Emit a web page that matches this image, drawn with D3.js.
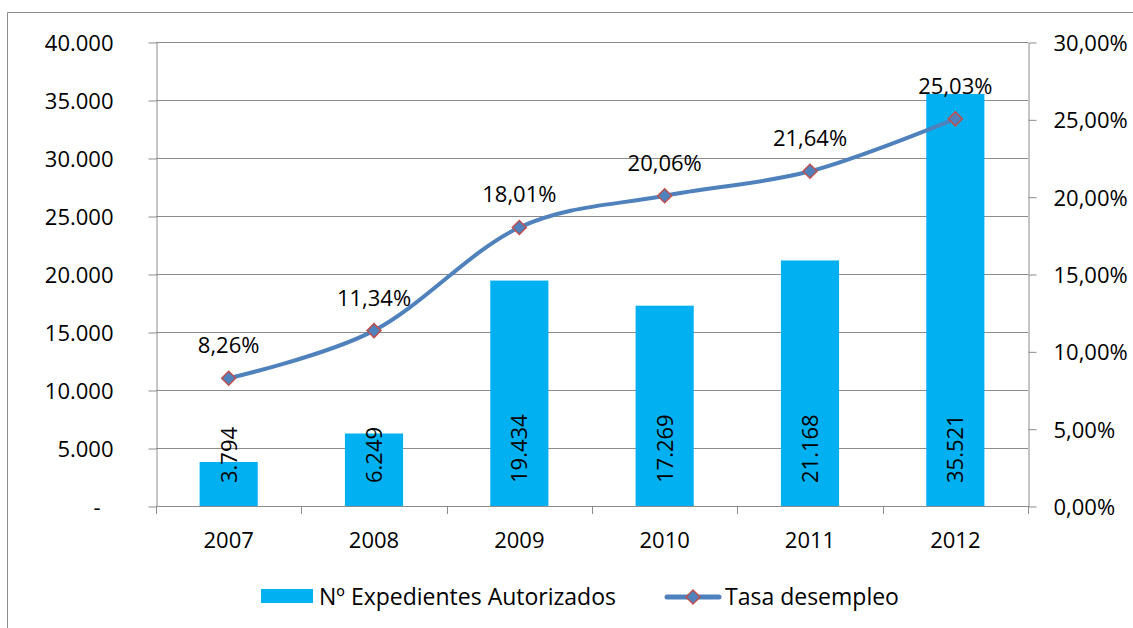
<!DOCTYPE html>
<html>
<head>
<meta charset="utf-8">
<script src="https://cdn.jsdelivr.net/npm/d3@7"></script>
<style>
  body { margin: 0; background: #fff; }
  svg { display: block; font-family: 'Open Sans', sans-serif; }
</style>
</head>
<body>
<svg id="chart" width="1133" height="628"></svg>
<script>
// Data
const years = ['2007', '2008', '2009', '2010', '2011', '2012']
const expedientes = [3794, 6249, 19434, 17269, 21168, 35521]
const tasa = [0.0826, 0.1134, 0.1801, 0.2006, 0.2164, 0.2503]
const leftTicks = [0, 5000, 10000, 15000, 20000, 25000, 30000, 35000, 40000]
const rightTicks = [0, 0.05, 0.10, 0.15, 0.20, 0.25, 0.30]
const barName = 'Nº Expedientes Autorizados'
const lineName = 'Tasa desempleo'

// Layout
const plot = { left: 156, right: 1028, top: 42, bottom: 506 }
const fontSize = 22
const legendFontSize = 23
const gridColor = '#8c8c8c'
const barColor = '#00B0F0'
const lineColor = '#4F81BD'
const markerStroke = '#C0504D'

const es = d3.formatLocale({ decimal: ',', thousands: '.', grouping: [3], currency: ['', '€'] })
const fmtNum = es.format(',')
const fmtPct = es.format('.2%')

const svg = d3.select('#chart')

// Outer chart border
svg.append('path')
  .attr('d', 'M7.5,628 V12.5 H1133')
  .attr('fill', 'none')
  .attr('stroke', gridColor)
  .attr('stroke-width', 1)

// Scales
const x = d3.scaleBand()
  .domain(years)
  .range([plot.left, plot.right])
  .padding(0.6)
  .paddingOuter(0.3)
const step = x.step()

const yLeft = d3.scaleLinear().domain([0, 40000]).range([plot.bottom, plot.top])
const yRight = d3.scaleLinear().domain([0, 0.30]).range([plot.bottom, plot.top])

// Gridlines
svg.append('g')
  .selectAll('line')
  .data(leftTicks)
  .enter()
  .append('line')
  .attr('x1', plot.left)
  .attr('x2', plot.right)
  .attr('y1', d => Math.round(yLeft(d)) + 0.5)
  .attr('y2', d => Math.round(yLeft(d)) + 0.5)
  .attr('stroke', gridColor)

// Left axis
const leftAxis = svg.append('g')
  .attr('transform', `translate(${plot.left + 0.5}, 0.5)`)
  .call(d3.axisLeft(yLeft).tickValues(leftTicks).tickSize(8).tickSizeOuter(0)
    .tickFormat(d => d === 0 ? '-' : fmtNum(d)))
leftAxis.selectAll('text')
  .attr('x', d => d === 0 ? -56 : -43)
  .attr('dy', null)
  .attr('y', 8)
  .style('font-size', fontSize + 'px')
  .style('font-family', 'Open Sans')
  .attr('fill', '#000')

// Right axis
const rightAxis = svg.append('g')
  .attr('transform', `translate(${plot.right + 0.5}, 0.5)`)
  .call(d3.axisRight(yRight).tickValues(rightTicks).tickSize(8).tickSizeOuter(0)
    .tickFormat(fmtPct))
rightAxis.selectAll('text')
  .attr('x', 25)
  .attr('dy', null)
  .attr('y', 8)
  .style('font-size', fontSize + 'px')
  .style('font-family', 'Open Sans')
  .attr('fill', '#000')

// Bottom axis: ticks at category boundaries
const boundaries = years.map(d => x(d) - step * 0.3).concat([plot.right])
const bottom = svg.append('g')
bottom.append('line')
  .attr('x1', plot.left).attr('x2', plot.right)
  .attr('y1', plot.bottom + 0.5).attr('y2', plot.bottom + 0.5)
  .attr('stroke', gridColor)
bottom.selectAll('.tick')
  .data(boundaries)
  .enter()
  .append('line')
  .attr('x1', d => Math.round(d) + 0.5)
  .attr('x2', d => Math.round(d) + 0.5)
  .attr('y1', plot.bottom)
  .attr('y2', plot.bottom + 8)
  .attr('stroke', gridColor)
bottom.selectAll('text')
  .data(years)
  .enter()
  .append('text')
  .attr('x', d => x(d) + x.bandwidth() / 2)
  .attr('y', 548)
  .attr('text-anchor', 'middle')
  .style('font-size', fontSize + 'px')
  .text(d => d)

// Style axis paths/ticks
svg.selectAll('.domain, .tick line').attr('stroke', gridColor)

// Bars
const barData = years.map((d, i) => ({ year: d, value: expedientes[i] }))
svg.append('g')
  .selectAll('rect')
  .data(barData)
  .enter()
  .append('rect')
  .attr('x', d => x(d.year))
  .attr('y', d => yLeft(d.value))
  .attr('width', x.bandwidth())
  .attr('height', d => plot.bottom - yLeft(d.value))
  .attr('fill', barColor)

// Bar labels (rotated, inside base)
svg.append('g')
  .selectAll('text')
  .data(barData)
  .enter()
  .append('text')
  .attr('transform', d => `translate(${x(d.year) + x.bandwidth() / 2 + 8}, ${plot.bottom - 23}) rotate(-90)`)
  .attr('text-anchor', 'start')
  .style('font-size', fontSize + 'px')
  .text(d => fmtNum(d.value))

// Line
const lineData = years.map((d, i) => ({ year: d, value: tasa[i] }))
const cx = d => x(d.year) + x.bandwidth() / 2
const line = d3.line()
  .x(cx)
  .y(d => yRight(d.value))
  .curve(d3.curveCardinal.tension(0))
svg.append('path')
  .datum(lineData)
  .attr('d', line)
  .attr('fill', 'none')
  .attr('stroke', lineColor)
  .attr('stroke-width', 4)
  .attr('stroke-linecap', 'round')

const diamond = 'M0,-7 L7,0 L0,7 L-7,0 Z'
svg.append('g')
  .selectAll('path')
  .data(lineData)
  .enter()
  .append('path')
  .attr('d', diamond)
  .attr('transform', d => `translate(${cx(d)}, ${yRight(d.value)})`)
  .attr('fill', lineColor)
  .attr('stroke', markerStroke)
  .attr('stroke-width', 1.5)

svg.append('g')
  .selectAll('text')
  .data(lineData)
  .enter()
  .append('text')
  .attr('x', cx)
  .attr('y', d => yRight(d.value) - 25)
  .attr('text-anchor', 'middle')
  .style('font-size', fontSize + 'px')
  .text(d => fmtPct(d.value))

// Legend
const legend = svg.append('g')
legend.append('rect')
  .attr('x', 261).attr('y', 589).attr('width', 52).attr('height', 14)
  .attr('fill', barColor)
legend.append('text')
  .attr('x', 319).attr('y', 605)
  .style('font-size', legendFontSize + 'px')
  .text(barName)
legend.append('line')
  .attr('x1', 667).attr('x2', 719).attr('y1', 597).attr('y2', 597)
  .attr('stroke', lineColor).attr('stroke-width', 5).attr('stroke-linecap', 'round')
legend.append('path')
  .attr('d', diamond)
  .attr('transform', 'translate(693, 597)')
  .attr('fill', lineColor)
  .attr('stroke', markerStroke)
  .attr('stroke-width', 1.5)
legend.append('text')
  .attr('x', 725).attr('y', 605)
  .style('font-size', legendFontSize + 'px')
  .text(lineName)
</script>
</body>
</html>
